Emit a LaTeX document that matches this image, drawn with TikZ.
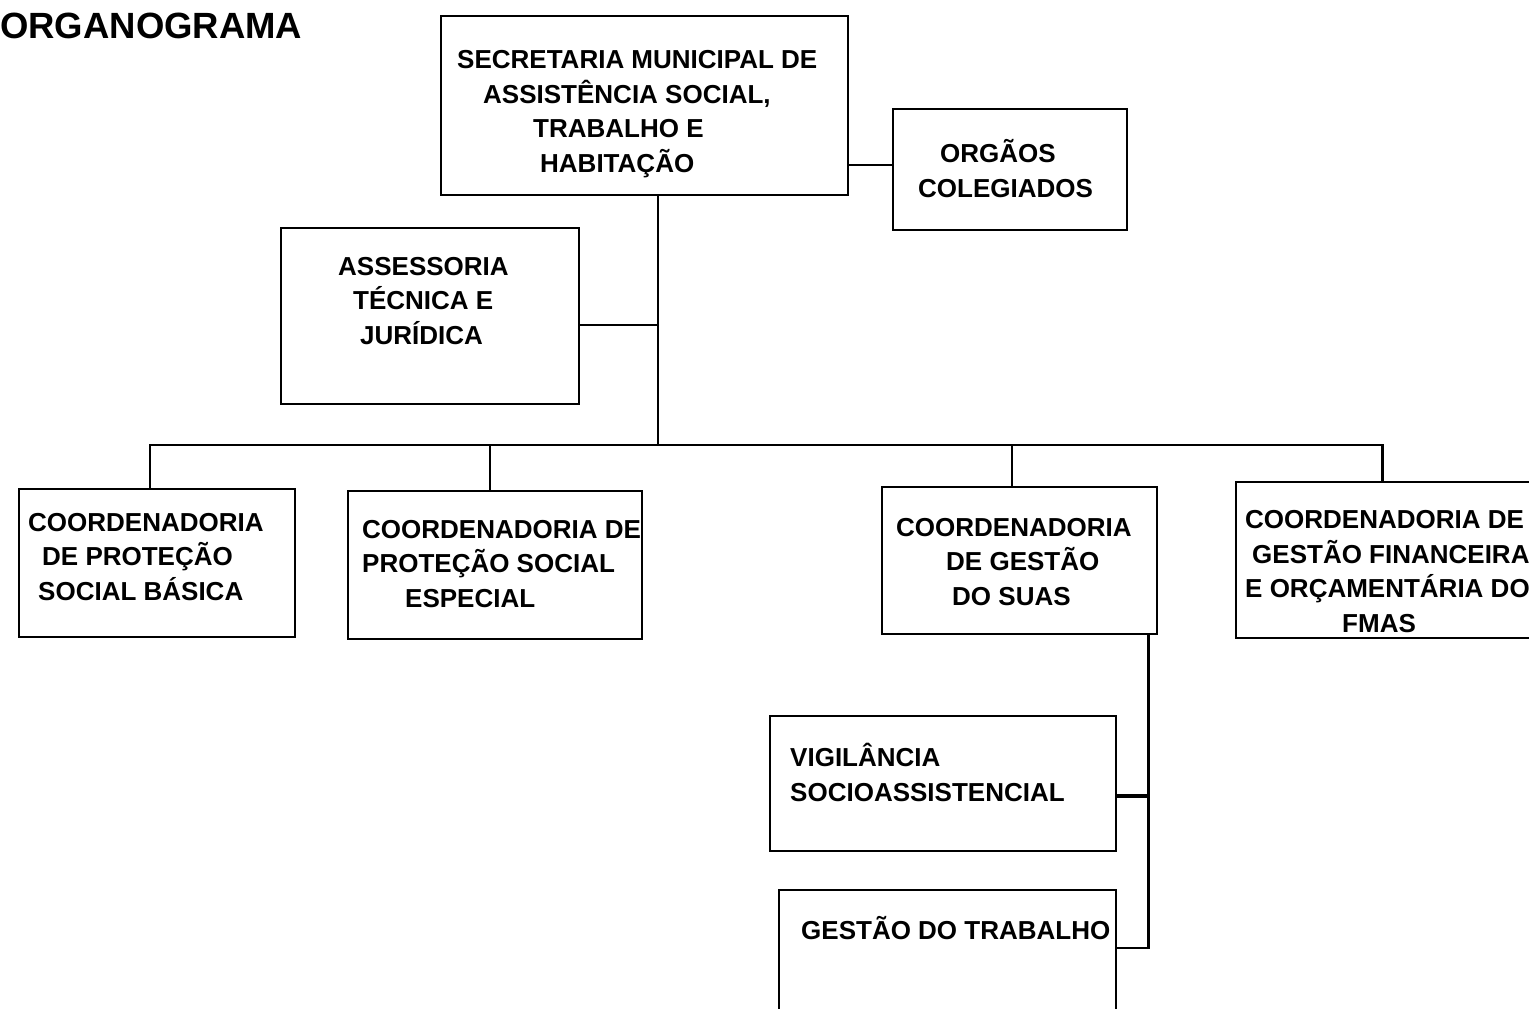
\documentclass[tikz,border=0pt]{standalone}
\usepackage{fontspec}
\setmainfont{Liberation Sans}
\begin{document}
\begin{tikzpicture}[x=1pt,y=-1pt,
  box/.style={draw, line width=2.8pt, inner sep=0pt},
  lbl/.style={font=\bfseries\fontsize{26}{34.5}\selectfont, align=left, anchor=base west, inner sep=0pt},
  link/.style={line width=2.8pt}]
\clip (0,0) rectangle (1529,1009);
\fill[white] (0,0) rectangle (1529,1009);
% title
\node[font=\bfseries\fontsize{36.5}{40}\selectfont, anchor=base west, inner sep=0pt] (title) at (0,38) {ORGANOGRAMA};
% boxes
\node[box, minimum width=407pt, minimum height=179pt] (sec) at (644.5,105.5) {};
\node[box, minimum width=234pt, minimum height=121pt] (org) at (1010,169.5) {};
\node[box, minimum width=298pt, minimum height=176pt] (ass) at (430,316) {};
\node[box, minimum width=276pt, minimum height=148pt] (b1) at (157,563) {};
\node[box, minimum width=294pt, minimum height=148pt] (b2) at (495,565) {};
\node[box, minimum width=275pt, minimum height=147pt] (b3) at (1019.5,560.5) {};
\node[box, minimum width=304pt, minimum height=156pt] (b4) at (1388,560) {};
\node[box, minimum width=346pt, minimum height=135pt] (vig) at (943,783.5) {};
\node[box, minimum width=337pt, minimum height=130pt] (gt) at (947.5,955) {};
% texts (anchor = baseline of the last line)
\node[lbl] (secT) at (457,172) {SECRETARIA MUNICIPAL DE\\\hspace*{26pt}ASSISTÊNCIA SOCIAL,\\\hspace*{76pt}TRABALHO E\\\hspace*{83pt}HABITAÇÃO};
\node[lbl] (orgT) at (918,197) {\hspace*{22pt}ORGÃOS\\COLEGIADOS};
\node[lbl] (assT) at (338,344) {ASSESSORIA\\\hspace*{15pt}TÉCNICA E\\\hspace*{22pt}JURÍDICA};
\node[lbl] (b1T) at (28,600) {COORDENADORIA\\\hspace*{14pt}DE PROTEÇÃO\\\hspace*{10pt}SOCIAL BÁSICA};
\node[lbl] (b2T) at (362,607) {COORDENADORIA DE\\PROTEÇÃO SOCIAL\\\hspace*{43pt}ESPECIAL};
\node[lbl] (b3T) at (896,605) {COORDENADORIA\\\hspace*{50pt}DE GESTÃO\\\hspace*{56pt}DO SUAS};
\node[lbl] (b4T) at (1245,632) {COORDENADORIA DE\\\hspace*{7pt}GESTÃO FINANCEIRA\\E ORÇAMENTÁRIA DO\\\hspace*{97pt}FMAS};
\node[lbl] (vigT) at (790,801) {VIGILÂNCIA\\SOCIOASSISTENCIAL};
\node[lbl] (gtT) at (801,939) {GESTÃO DO TRABALHO};
% connectors
\coordinate (bus) at (658,445);
\draw[link] (bus |- sec.south) -- (bus);
\draw[link] ([yshift=4.5pt]org.west) -- ([yshift=4.5pt]org.west -| sec.east);
\draw[link] ([yshift=-9pt]ass.east) -- ([yshift=-9pt]ass.east -| bus);
\draw[link] ([xshift=-7pt]b1.north) -- ([xshift=-7pt]b1.north |- bus) -- ([xshift=-5.5pt]b4.north |- bus) -- ([xshift=-5.5pt]b4.north);
\draw[link] ([xshift=-5pt]b2.north) -- ([xshift=-5pt]b2.north |- bus);
\draw[link] ([xshift=-7.5pt]b3.north) -- ([xshift=-7.5pt]b3.north |- bus);
\coordinate (sub) at ([xshift=-10pt]b3.south east);
\draw[link] (sub) |- ([yshift=7pt]gt.east);
\draw[link, line width=4pt] ([yshift=-12.5pt]vig.east) -- ([yshift=-12.5pt]vig.east -| sub);
\end{tikzpicture}
\end{document}
